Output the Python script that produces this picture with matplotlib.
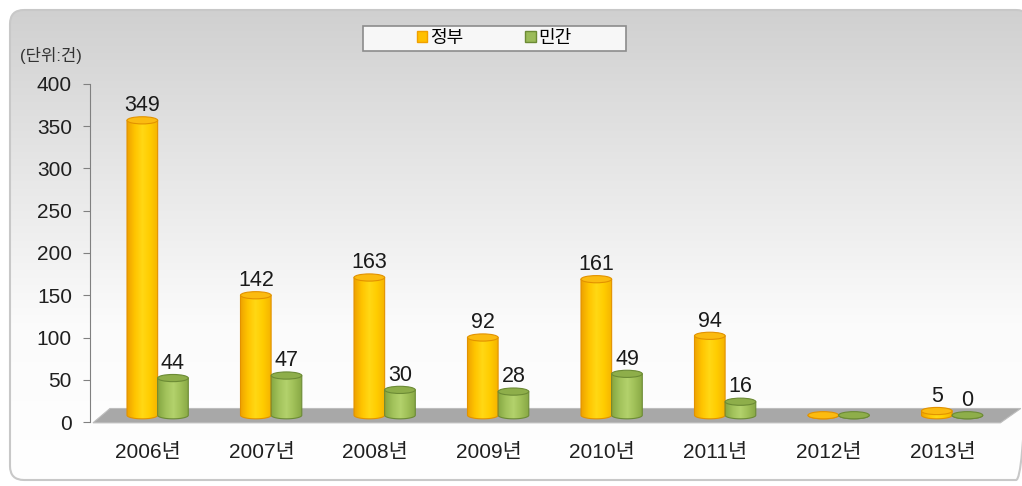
import numpy as np
import matplotlib
matplotlib.use('Agg')
import matplotlib.pyplot as plt
from matplotlib.patches import FancyBboxPatch, Rectangle, Ellipse, PathPatch, Polygon, Patch
from matplotlib.path import Path
from matplotlib.colors import LinearSegmentedColormap

plt.rcParams['font.family'] = ['Liberation Sans', 'Noto Sans CJK KR']

years = ['2006년', '2007년', '2008년', '2009년', '2010년', '2011년', '2012년', '2013년']
gov = [349, 142, 163, 92, 161, 94, 0, 5]
pri = [44, 47, 30, 28, 49, 16, 0, 0]
gov_labels = ['349', '142', '163', '92', '161', '94', '', '5']
pri_labels = ['44', '47', '30', '28', '49', '16', '', '0']
yticks = [0, 50, 100, 150, 200, 250, 300, 350, 400]

fig = plt.figure(figsize=(10.22, 4.86), dpi=100)

# background panel with vertical gradient
bg = fig.add_axes([0, 0, 1, 1])
bg.set_xlim(0, 1022)
bg.set_ylim(486, 0)
bg.axis('off')
panel = FancyBboxPatch((10, 10), 1020, 470, boxstyle='round,pad=0,rounding_size=14',
                       fc='none', ec='#c8c8c8', lw=1.5, zorder=3)
bg.add_patch(panel)
bg_cmap = LinearSegmentedColormap.from_list('bg', ['#d0d0d0', '#e6e6e6', '#fbfbfb', '#ffffff'])
gim = bg.imshow(np.linspace(0, 1, 256)[:, None], cmap=bg_cmap, extent=[10, 1030, 480, 10],
                aspect='auto', origin='upper', zorder=1)
gim.set_clip_path(panel)
bg.set_xlim(0, 1022)
bg.set_ylim(486, 0)

# legend box
bg.add_patch(Rectangle((363, 26), 263, 25, fc='#f7f7f7', ec='#8c8c8c', lw=1.2, zorder=4))
bg.text(20, 55, '(단위:건)', fontsize=12, color='#333333', va='center', ha='left', zorder=4)

ax = fig.add_axes([90 / 1022, 64 / 486, 930 / 1022, 338 / 486])
ax.patch.set_alpha(0)

w = 0.27
eh = 8.5
lift = 8
off_gov = -0.05
off_pri = 0.22

orange_cmap = LinearSegmentedColormap.from_list('o', ['#eea200', '#ffc400', '#ffd814', '#ffcc00', '#f6b400'])
green_cmap = LinearSegmentedColormap.from_list('g', ['#86a843', '#a2c25b', '#b3d26c', '#9fbf57', '#88a845'])


def cylinder(xc, v, cmap, top_fc, ec):
    x0, x1 = xc - w / 2, xc + w / 2
    yb, yt = lift, v + lift
    t = np.linspace(np.pi, 2 * np.pi, 40)
    arc = np.column_stack([xc + w / 2 * np.cos(t), yb + eh / 2 * np.sin(t)])
    verts = [(x0, yt)] + [tuple(p) for p in arc] + [(x1, yt), (x0, yt)]
    codes = [Path.MOVETO] + [Path.LINETO] * (len(verts) - 2) + [Path.CLOSEPOLY]
    body = PathPatch(Path(verts, codes), fc='none', ec=ec, lw=0.8, zorder=3)
    ax.add_patch(body)
    im = ax.imshow(np.linspace(0, 1, 64)[None, :], cmap=cmap, extent=[x0, x1, yb - eh / 2, yt],
                   aspect='auto', origin='lower', zorder=2)
    im.set_clip_path(body)
    ax.add_patch(Ellipse((xc, yt), w, eh, fc=top_fc, ec=ec, lw=0.8, zorder=3))


# floor
floor = Polygon([(-0.485, -1), (-0.335, 16), (7.69, 16), (7.51, -1)], closed=True,
                fc='#a8a8a8', ec='#bdbdbd', lw=0.8, zorder=1, clip_on=False)
ax.add_patch(floor)

for i in range(len(years)):
    cylinder(i + off_gov, gov[i], orange_cmap, '#fbbb10', '#e29200')
    cylinder(i + off_pri, pri[i], green_cmap, '#8eae4a', '#6c8b35')
    if gov_labels[i]:
        ax.text(i + off_gov, gov[i] + 19, gov_labels[i], ha='center', va='baseline',
                fontsize=15.5, color='#1a1a1a', zorder=5)
    if pri_labels[i]:
        ax.text(i + off_pri, pri[i] + 19, pri_labels[i], ha='center', va='baseline',
                fontsize=15.5, color='#1a1a1a', zorder=5)

ax.set_xlim(-0.511, 7.683)
ax.set_ylim(0, 400)
ax.set_yticks(yticks)
ax.set_xticks(range(len(years)))
ax.set_xticklabels(years)
for s in ['top', 'right', 'bottom']:
    ax.spines[s].set_visible(False)
ax.spines['left'].set_color('#808080')
ax.tick_params(axis='y', length=5, color='#808080', labelsize=15, labelcolor='#1f1f1f', pad=8)
ax.tick_params(axis='x', length=0, labelsize=15, labelcolor='#1f1f1f', pad=15)

handles = [Patch(fc='#ffc000', ec='#f0a000'), Patch(fc='#9bbb59', ec='#6c8b35')]
fig.legend(handles, ['정부', '민간'], loc='center', bbox_to_anchor=(494 / 1022, 1 - 38.5 / 486),
           ncol=2, frameon=False, fontsize=13, handlelength=0.6, handleheight=0.6,
           handletextpad=0.15, columnspacing=3.4)

plt.savefig('out.png', dpi=100)
